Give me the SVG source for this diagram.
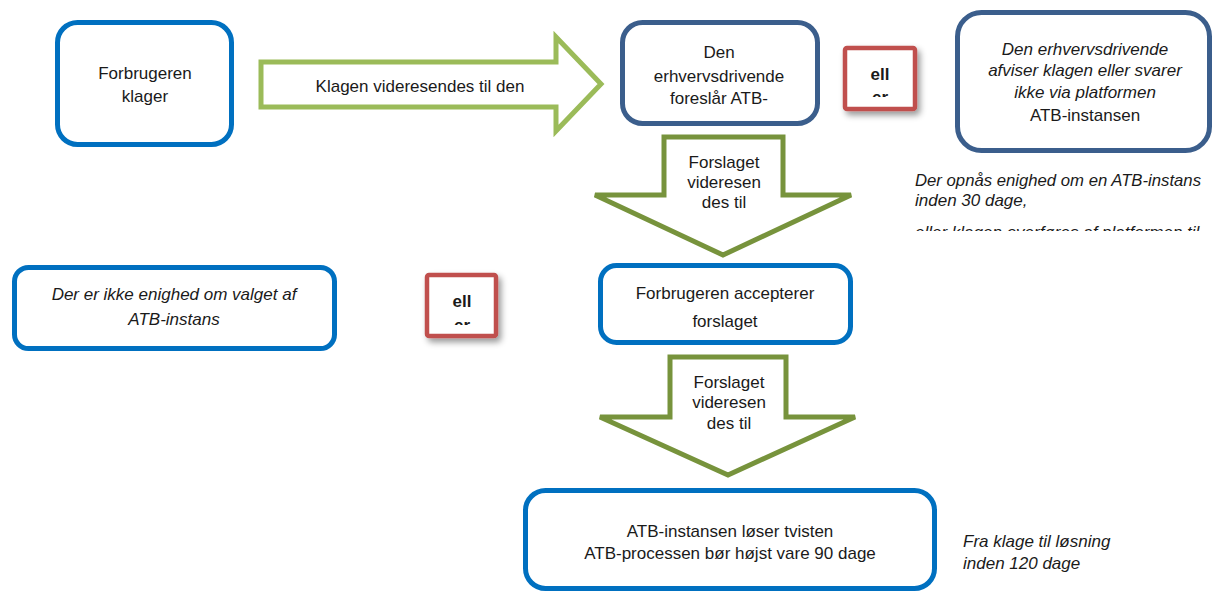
<svg xmlns="http://www.w3.org/2000/svg" width="1214" height="592" viewBox="0 0 1214 592">
<style>
.t{font-family:"Liberation Sans",Arial,sans-serif;font-size:17px;fill:#1a1a1a;text-anchor:middle}
.i{font-style:italic}
.l{text-anchor:start}
.b{font-weight:bold}
.bl{fill:#fff;stroke:#0070C0;stroke-width:5}
.db{fill:#fff;stroke:#3B5E8C;stroke-width:5}
.rd{fill:#fff;stroke:#C0504D;stroke-width:4.5}
.ga{fill:#fff;stroke:#9BBB59;stroke-width:5;stroke-linejoin:miter}
.go{fill:#fff;stroke:#77933C;stroke-width:5;stroke-linejoin:miter}
</style>
<defs>
<filter id="sh" x="-30%" y="-30%" width="170%" height="170%">
<feDropShadow dx="3" dy="4" stdDeviation="3" flood-color="#000" flood-opacity="0.4"/>
</filter>
<clipPath id="c1"><rect x="847" y="50" width="66" height="47"/></clipPath>
<clipPath id="c2"><rect x="429" y="277" width="65" height="48"/></clipPath>
<clipPath id="c3"><rect x="900" y="160" width="314" height="71"/></clipPath>
</defs>
<rect width="1214" height="592" fill="#fff"/>
<g id="connectors">
<path class="ga" d="M261,62 L556,62 L556,37 L601,84 L556,131 L556,107 L261,107 Z"/>
<path class="go" d="M664,137 L783,137 L783,195 L851,195 L723,255 L595,195 L664,195 Z"/>
<path class="go" d="M670,357 L786,357 L786,417 L855,417 L728,475 L600,417 L670,417 Z"/>
<text class="t" x="420" y="92">Klagen videresendes til den</text>
<text class="t" x="724" y="168">Forslaget</text>
<text class="t" x="724" y="188">videresen</text>
<text class="t" x="724" y="208">des til</text>
<text class="t" x="729" y="388">Forslaget</text>
<text class="t" x="729" y="408">videresen</text>
<text class="t" x="729" y="429">des til</text>
</g>
<g id="n1">
<rect class="bl" x="57.5" y="22.5" width="174" height="122" rx="20"/>
<text class="t" x="145" y="79">Forbrugeren</text>
<text class="t" x="145" y="102">klager</text>
</g>
<g id="n2">
<rect class="db" x="622.5" y="22.5" width="195" height="101" rx="20"/>
<text class="t" x="719" y="58">Den</text>
<text class="t" x="719" y="82">erhvervsdrivende</text>
<text class="t" x="719" y="104">foreslår ATB-</text>
</g>
<g id="n3">
<rect class="rd" x="845" y="48" width="70" height="61" rx="2" filter="url(#sh)"/>
<g clip-path="url(#c1)">
<text class="t b" x="880" y="80">ell</text>
<text class="t b" x="880" y="103">er</text>
</g>
</g>
<g id="n4">
<rect class="db" x="957.5" y="12.5" width="252" height="138" rx="24"/>
<text class="t i" x="1085" y="55">Den erhvervsdrivende</text>
<text class="t i" x="1085" y="76">afviser klagen eller svarer</text>
<text class="t i" x="1085" y="98">ikke via platformen</text>
<text class="t" x="1085" y="121">ATB-instansen</text>
</g>
<g id="n5">
<text class="t i l" x="915" y="186" textLength="286" lengthAdjust="spacingAndGlyphs">Der opnås enighed om en ATB-instans</text>
<text class="t i l" x="915" y="206">inden 30 dage,</text>
<g clip-path="url(#c3)">
<text class="t i l" x="915" y="238">eller klagen overføres af platformen til</text>
</g>
</g>
<g id="n6">
<rect class="bl" x="14.5" y="267.5" width="320" height="81" rx="14"/>
<text class="t i" x="174" y="300">Der er ikke enighed om valget af</text>
<text class="t i" x="174" y="325">ATB-instans</text>
</g>
<g id="n7">
<rect class="rd" x="427" y="275" width="69" height="61" rx="2" filter="url(#sh)"/>
<g clip-path="url(#c2)">
<text class="t b" x="462" y="307">ell</text>
<text class="t b" x="462" y="331">er</text>
</g>
</g>
<g id="n8">
<rect class="bl" x="600.5" y="265.5" width="250" height="77" rx="16"/>
<text class="t" x="725" y="299">Forbrugeren accepterer</text>
<text class="t" x="725" y="327">forslaget</text>
</g>
<g id="n9">
<rect class="bl" x="525.5" y="490.5" width="409" height="98" rx="20"/>
<text class="t" x="730" y="537">ATB-instansen løser tvisten</text>
<text class="t" x="730" y="559">ATB-processen bør højst vare 90 dage</text>
</g>
<g id="n10">
<text class="t i l" x="963" y="547">Fra klage til løsning</text>
<text class="t i l" x="963" y="569">inden 120 dage</text>
</g>
</svg>
